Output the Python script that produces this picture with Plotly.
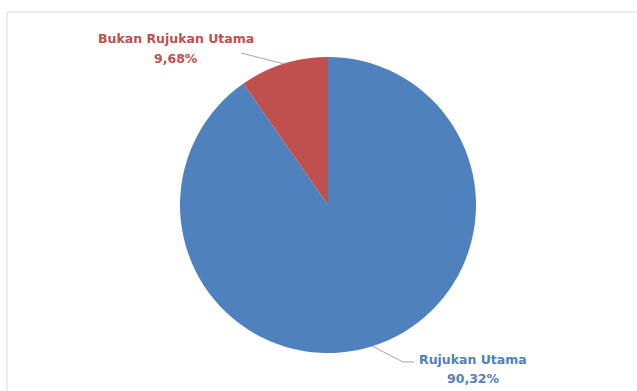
import math
import plotly.graph_objects as go

# Slice data (clockwise from 12 o'clock)
labels = ["Rujukan Utama", "Bukan Rujukan Utama"]
values = [90.32, 9.68]
value_text = ["90,32%", "9,68%"]
colors = ["#4F81BD", "#C0504D"]

W, H = 637, 391
cx_px, cy_px, r_px = 328, 205, 148

dom_x = [(cx_px - r_px) / W, (cx_px + r_px) / W]
dom_y = [1 - (cy_px + r_px) / H, 1 - (cy_px - r_px) / H]

fig = go.Figure(go.Pie(
    labels=labels,
    values=values,
    sort=False,
    direction="clockwise",
    rotation=0,
    marker=dict(colors=colors, line=dict(color="white", width=0)),
    textinfo="none",
    hoverinfo="label+percent",
    showlegend=False,
    domain=dict(x=dom_x, y=dom_y),
))


def edge_point(mid_frac):
    """Pixel position on the pie rim at a fraction of the turn (clockwise from top)."""
    a = 2 * math.pi * mid_frac
    return cx_px + r_px * math.sin(a), cy_px - r_px * math.cos(a)


def px(x, y):
    return x / W, 1 - y / H


total = sum(values)
cum = 0
mids = []
for v in values:
    mids.append((cum + v / 2) / total)
    cum += v

# label positions (pixels): name line and value line centres
name_pos = [(473, 359), (176, 38)]
value_pos = [(473, 378), (176, 58)]
elbows = [[(403, 362), (414, 362)], [(241, 53)]]

shapes = []
annotations = []
for i, lab in enumerate(labels):
    ex, ey = edge_point(mids[i])
    pts = [(ex, ey)] + elbows[i]
    path = "M " + " L ".join(f"{px(x, y)[0]:.5f},{px(x, y)[1]:.5f}" for x, y in pts)
    shapes.append(dict(type="path", xref="paper", yref="paper", path=path,
                       line=dict(color="#a6a6a6", width=1)))
    for pos, txt in ((name_pos[i], lab), (value_pos[i], value_text[i])):
        lx, ly = px(*pos)
        annotations.append(dict(
            x=lx, y=ly, xref="paper", yref="paper", showarrow=False,
            text=f"<b>{txt}</b>",
            font=dict(family="DejaVu Sans", size=12.5, color=colors[i]),
            align="center", xanchor="center", yanchor="middle",
        ))

# chart area frame
shapes.append(dict(type="rect", xref="paper", yref="paper",
                   x0=7 / W, x1=1.02, y0=-0.05, y1=1 - 12 / H,
                   line=dict(color="#d9d9d9", width=1)))

fig.update_layout(
    width=W, height=H,
    margin=dict(l=0, r=0, t=0, b=0),
    paper_bgcolor="white",
    plot_bgcolor="white",
    shapes=shapes,
    annotations=annotations,
)

fig.write_html("out.html")
